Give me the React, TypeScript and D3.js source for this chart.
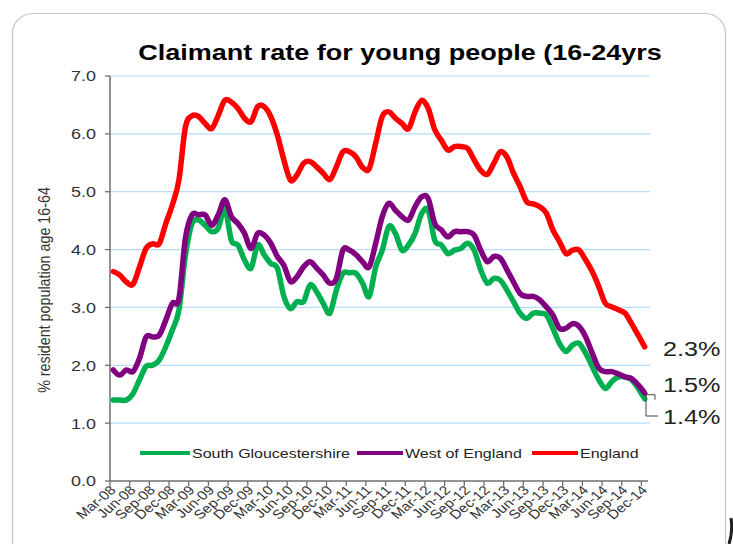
import React from "react";
import * as d3 from "d3";

const title = "Claimant rate for young people (16-24yrs";
const yAxisTitle = "% resident population age 16-64";

const tickLabels = [
  "Mar-08", "Jun-08", "Sep-08", "Dec-08",
  "Mar-09", "Jun-09", "Sep-09", "Dec-09",
  "Mar-10", "Jun-10", "Sep-10", "Dec-10",
  "Mar-11", "Jun-11", "Sep-11", "Dec-11",
  "Mar-12", "Jun-12", "Sep-12", "Dec-12",
  "Mar-13", "Jun-13", "Sep-13", "Dec-13",
  "Mar-14", "Jun-14", "Sep-14", "Dec-14",
];

// monthly values, Mar-08 .. Dec-14
const southGlos = [
  1.40, 1.40, 1.40, 1.51, 1.75, 1.98, 2.00, 2.09, 2.32, 2.61,
  2.95, 3.90, 4.45, 4.51, 4.42, 4.31, 4.37, 4.71, 4.16, 4.08,
  3.82, 3.68, 4.08, 3.91, 3.76, 3.68, 3.19, 2.98, 3.10, 3.10,
  3.39, 3.27, 3.07, 2.90, 3.30, 3.59, 3.60, 3.59, 3.42, 3.19,
  3.70, 3.99, 4.40, 4.28, 3.99, 4.08, 4.28, 4.62, 4.68, 4.16,
  4.08, 3.93, 3.99, 4.02, 4.11, 3.99, 3.65, 3.42, 3.50, 3.47,
  3.30, 3.10, 2.90, 2.81, 2.90, 2.90, 2.87, 2.64, 2.38, 2.24,
  2.35, 2.38, 2.21, 1.98, 1.75, 1.60, 1.72, 1.80, 1.80, 1.75,
  1.60, 1.42,
];

const westOfEngland = [
  1.92, 1.83, 1.92, 1.89, 2.12, 2.49, 2.49, 2.52, 2.78, 3.07,
  3.15, 4.20, 4.60, 4.60, 4.60, 4.42, 4.60, 4.86, 4.57, 4.45,
  4.28, 4.02, 4.28, 4.25, 4.11, 3.88, 3.73, 3.45, 3.53, 3.70,
  3.79, 3.68, 3.56, 3.42, 3.50, 3.99, 3.99, 3.91, 3.79, 3.70,
  4.11, 4.57, 4.80, 4.68, 4.57, 4.51, 4.74, 4.91, 4.88, 4.45,
  4.34, 4.22, 4.31, 4.31, 4.31, 4.25, 3.99, 3.79, 3.88, 3.85,
  3.65, 3.44, 3.24, 3.19, 3.19, 3.13, 3.01, 2.87, 2.64, 2.64,
  2.72, 2.67, 2.49, 2.21, 1.95, 1.89, 1.89, 1.85, 1.80, 1.77,
  1.66, 1.52,
];

const england = [
  3.62, 3.56, 3.44, 3.40, 3.70, 4.02, 4.10, 4.10, 4.45, 4.77,
  5.20, 6.12, 6.31, 6.30, 6.18, 6.09, 6.32, 6.58, 6.55, 6.44,
  6.27, 6.21, 6.47, 6.47, 6.30, 5.98, 5.55, 5.20, 5.29, 5.49,
  5.52, 5.43, 5.32, 5.21, 5.43, 5.69, 5.69, 5.60, 5.42, 5.40,
  5.84, 6.30, 6.38, 6.27, 6.18, 6.09, 6.38, 6.58, 6.44, 6.07,
  5.89, 5.72, 5.78, 5.78, 5.75, 5.55, 5.37, 5.30, 5.49, 5.69,
  5.60, 5.32, 5.09, 4.83, 4.79, 4.74, 4.63, 4.34, 4.14, 3.93,
  3.99, 3.99, 3.82, 3.62, 3.36, 3.07, 3.01, 2.96, 2.90, 2.72,
  2.52, 2.32,
];

const seriesNames = ["South Gloucestershire", "West of England", "England"];
const seriesColors = ["#00b050", "#800080", "#ff0000"];
const endLabels = ["1.4%", "1.5%", "2.3%"];

const W = 733;
const H = 544;
const SX = 1.2; // horizontal stretch of the original picture

function T(props: {
  x: number; y: number; size: number; anchor?: string; weight?: string;
  fill?: string; rotate?: number; dy?: string; children: React.ReactNode;
}) {
  const { x, y, size, anchor = "start", weight = "normal", fill = "#222", rotate, dy, children } = props;
  return (
    <text
      transform={`translate(${x},${y}) scale(${SX},1)${rotate !== undefined ? ` rotate(${rotate})` : ""}`}
      fontFamily="'Liberation Sans', Arial, sans-serif"
      fontSize={size}
      fontWeight={weight}
      textAnchor={anchor}
      fill={fill}
      dy={dy}
    >
      {children}
    </text>
  );
}

export default function App() {
  const n = england.length;
  const x = d3.scaleLinear().domain([-0.5, n - 0.5]).range([110, 648]);
  const y = d3.scaleLinear().domain([0, 7]).range([481, 76]);
  const yTicks = y.ticks(7);
  const fmt = d3.format(".1f");
  const line = d3
    .line<number>()
    .x((_, i) => x(i))
    .y((d) => y(d))
    .curve(d3.curveCatmullRom.alpha(0));
  const data = [southGlos, westOfEngland, england];
  const tickIdx = tickLabels.map((_, k) => k * 3);

  const legendX = [[140, 190], [357, 403], [532, 578]];
  const legendY = 453;

  return (
    <svg width={W} height={H} style={{ position: "absolute", left: 0, top: 0, background: "#fff" }}>
      <rect x={12.5} y={13.5} width={713} height={620} rx={20} ry={20} fill="#fff" stroke="#c4c4c4" strokeWidth={1.2} />
      <path d="M731,518 Q733,532 729,544" fill="none" stroke="#222" strokeWidth={3} />

      {/* gridlines */}
      {yTicks.filter((t) => t > 0).map((t) => (
        <line key={"g" + t} x1={110} x2={650} y1={y(t)} y2={y(t)} stroke="#b8dbf8" strokeWidth={1.2} />
      ))}

      {/* y axis */}
      <line x1={110} x2={110} y1={y(7)} y2={y(0)} stroke="#6f6f6f" strokeWidth={1.5} />
      {yTicks.map((t) => (
        <g key={"yt" + t}>
          <line x1={105} x2={110} y1={y(t)} y2={y(t)} stroke="#6f6f6f" strokeWidth={1.3} />
          <T x={96} y={y(t)} size={15} anchor="end" dy="0.36em" fill="#333">{fmt(t)}</T>
        </g>
      ))}

      {/* x axis */}
      <line x1={110} x2={648} y1={y(0)} y2={y(0)} stroke="#6f6f6f" strokeWidth={1.5} />
      {tickIdx.map((i, k) => (
        <g key={"xt" + k}>
          <line x1={x(i - 0.5)} x2={x(i - 0.5)} y1={y(0)} y2={y(0) + 5} stroke="#6f6f6f" strokeWidth={1.3} />
          <T x={x(i) + 3.5} y={491} size={12.8} anchor="end" rotate={-45} fill="#333">{tickLabels[k]}</T>
        </g>
      ))}

      {/* series */}
      {data.map((d, s) => (
        <path key={"s" + s} d={line(d) || ""} fill="none" stroke={seriesColors[s]} strokeWidth={5.5}
          strokeLinejoin="round" strokeLinecap="round" />
      ))}

      {/* legend */}
      {seriesNames.map((name, s) => (
        <g key={"lg" + s}>
          <line x1={legendX[s][0]} x2={legendX[s][1]} y1={legendY} y2={legendY} stroke={seriesColors[s]} strokeWidth={4} />
          <T x={legendX[s][1] + 2} y={legendY} size={13.3} dy="0.36em" fill="#222">{name}</T>
        </g>
      ))}

      {/* end annotations */}
      <path d={`M655,${y(1.5) + 5.5} V${y(1.5) + 0.5} H646 V${y(1.4) + 16} H658`} fill="none" stroke="#444" strokeWidth={1} />
      <T x={663} y={356} size={21} fill="#222">{endLabels[2]}</T>
      <T x={663} y={392} size={21} fill="#222">{endLabels[1]}</T>
      <T x={663} y={424} size={21} fill="#222">{endLabels[0]}</T>

      {/* axis title */}
      <T x={50} y={290} size={14.3} anchor="middle" rotate={-90} fill="#333">{yAxisTitle}</T>

      {/* title */}
      <T x={400} y={60} size={22.5} anchor="middle" weight="bold" fill="#000">{title}</T>
    </svg>
  );
}
